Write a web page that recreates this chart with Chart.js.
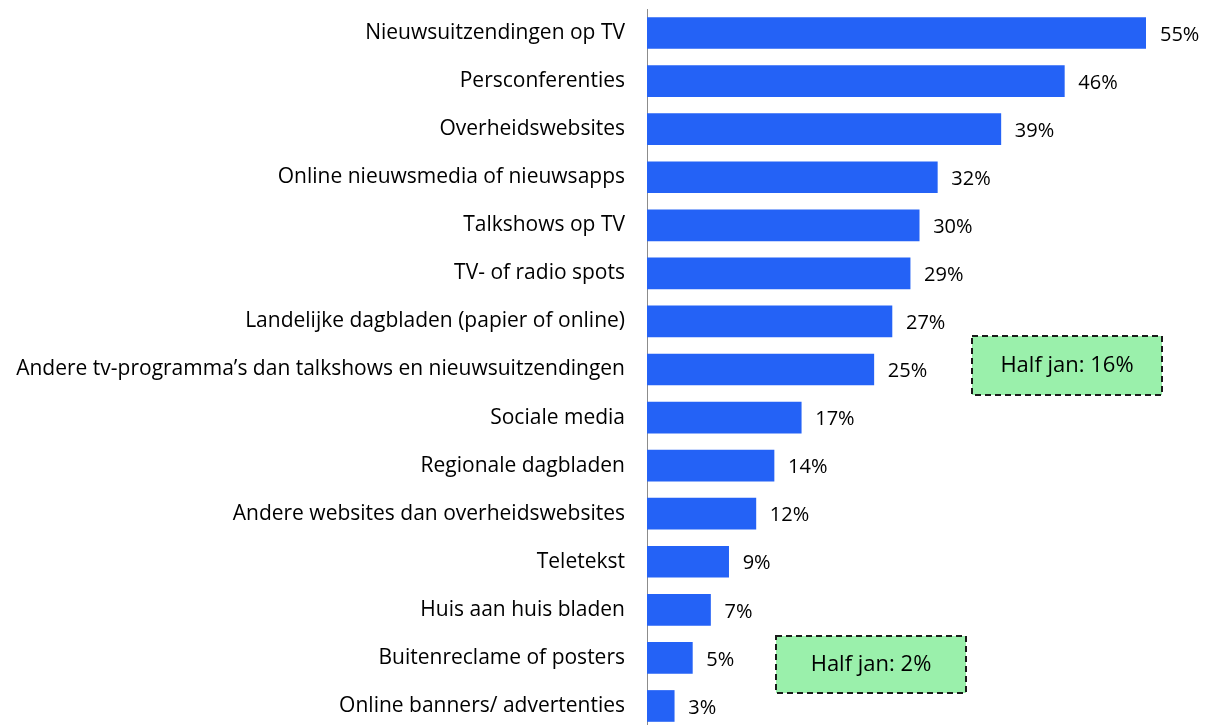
<!DOCTYPE html>
<html>
<head>
<meta charset="utf-8">
<script src="https://cdn.jsdelivr.net/npm/chart.js@4.4.0/dist/chart.umd.min.js"></script>
<style>
html, body { margin: 0; padding: 0; background: #fff; overflow: hidden; }
#wrap { width: 1225px; height: 730px; }
</style>
</head>
<body>
<div id="wrap"><canvas id="chart" width="1225" height="730"></canvas></div>
<script>
var categories = [
    'Nieuwsuitzendingen op TV',
    'Persconferenties',
    'Overheidswebsites',
    'Online nieuwsmedia of nieuwsapps',
    'Talkshows op TV',
    'TV- of radio spots',
    'Landelijke dagbladen (papier of online)',
    'Andere tv-programma\u2019s dan talkshows en nieuwsuitzendingen',
    'Sociale media',
    'Regionale dagbladen',
    'Andere websites dan overheidswebsites',
    'Teletekst',
    'Huis aan huis bladen',
    'Buitenreclame of posters',
    'Online banners/ advertenties'
];
var values = [55, 46, 39, 32, 30, 29, 27, 25, 17, 14, 12, 9, 7, 5, 3];
var notes = ['Half jan: 16%', 'Half jan: 2%'];

var FONT = '"Open Sans", sans-serif';

// percentage labels after each bar
var valueLabels = {
    id: 'valueLabels',
    afterDatasetsDraw: function(chart) {
        var ctx = chart.ctx;
        var meta = chart.getDatasetMeta(0);
        ctx.save();
        ctx.font = '20px ' + FONT;
        ctx.fillStyle = '#000';
        ctx.textAlign = 'left';
        ctx.textBaseline = 'middle';
        meta.data.forEach(function(bar, i) {
            ctx.fillText(values[i] + '%', bar.x + 14, bar.y + 2);
        });
        ctx.restore();
    }
};

// the two green "Half jan" boxes
var noteBoxes = {
    id: 'noteBoxes',
    afterDraw: function(chart) {
        var ctx = chart.ctx;
        var boxes = [
            {x: 972, y: 336, w: 190, h: 59, text: notes[0]},
            {x: 776, y: 636, w: 190, h: 57, text: notes[1]}
        ];
        ctx.save();
        boxes.forEach(function(b) {
            ctx.fillStyle = '#9af0ab';
            ctx.fillRect(b.x, b.y, b.w, b.h);
            ctx.setLineDash([6, 4]);
            ctx.lineWidth = 2;
            ctx.strokeStyle = '#1a1a1a';
            ctx.strokeRect(b.x, b.y, b.w, b.h);
            ctx.setLineDash([]);
            ctx.fillStyle = '#000';
            ctx.font = '22px ' + FONT;
            ctx.textAlign = 'center';
            ctx.textBaseline = 'middle';
            ctx.fillText(b.text, b.x + b.w / 2, b.y + b.h / 2);
        });
        ctx.restore();
    }
};

var ctx = document.getElementById('chart');
var myChart = new Chart(ctx, {
    type: 'bar',
    data: {
        labels: categories,
        datasets: [{
            data: values,
            backgroundColor: '#2462f6',
            borderWidth: 0,
            barThickness: 31
        }]
    },
    options: {
        indexAxis: 'y',
        responsive: false,
        animation: false,
        layout: { padding: { top: 9, right: 79, bottom: 0, left: 0 } },
        plugins: { legend: { display: false }, tooltip: { enabled: false } },
        scales: {
            x: { display: false, min: 0, max: 55 },
            y: {
                afterFit: function(scale) {
                    scale.width = 647;
                    scale.paddingTop = 0;
                    scale.paddingBottom = 0;
                },
                grid: { display: true, drawOnChartArea: false, drawTicks: false },
                border: { display: true, color: '#8c8c8c', width: 1 },
                ticks: { padding: 22, color: '#000', font: { family: FONT, size: 21 } }
            }
        }
    },
    plugins: [valueLabels, noteBoxes]
});
</script>
</body>
</html>
